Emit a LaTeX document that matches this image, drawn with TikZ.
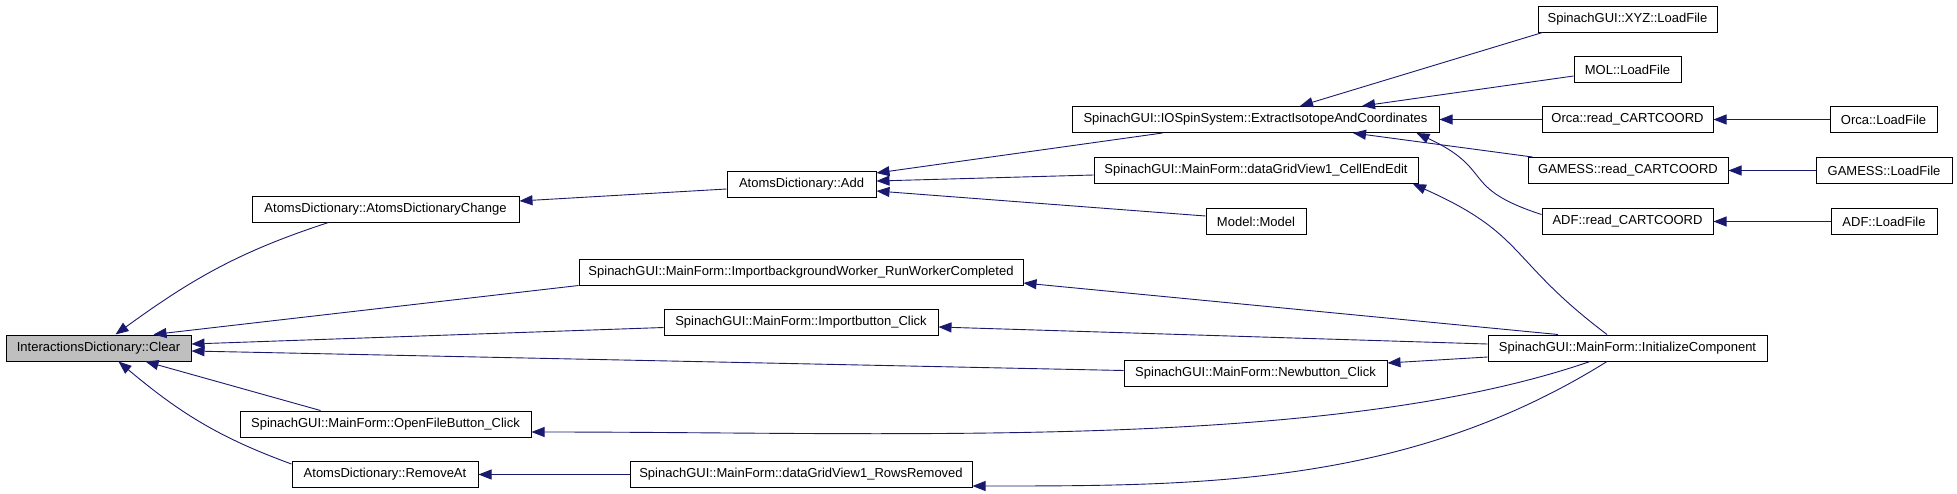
\documentclass[tikz,border=0pt]{standalone}
\usepackage{fontspec}
\setmainfont{Liberation Sans}
\usetikzlibrary{arrows.meta}
\definecolor{callblue}{HTML}{191970}
\definecolor{curgray}{HTML}{BFBFBF}

\begin{document}
\begin{tikzpicture}[
  x=1pt, y=-1pt,
  fn/.style={draw, line width=1pt, minimum height=26pt, inner sep=0pt, font=\fontsize{13pt}{15pt}\selectfont},
  current/.style={fn, fill=curgray},
  call/.style={-{Triangle[length=13pt,width=10pt]}, draw=callblue, line width=0.9pt}
]
\useasboundingbox (0,0) rectangle (1957,493);

\node[current, minimum width=185pt] (clear) at (98.5,348) {InteractionsDictionary::Clear};

\node[fn, minimum width=267pt] (dictchange) at (385.5,209) {AtomsDictionary::AtomsDictionaryChange};
\node[fn, minimum width=291pt] (openfile) at (385.5,424) {SpinachGUI::MainForm::OpenFileButton\_Click};
\node[fn, minimum width=186pt] (removeat) at (385,474.5) {AtomsDictionary::RemoveAt};

\node[fn, minimum width=149pt] (add) at (801.5,184) {AtomsDictionary::Add};
\node[fn, minimum width=444pt] (runworker) at (801,272) {SpinachGUI::MainForm::ImportbackgroundWorker\_RunWorkerCompleted};
\node[fn, minimum width=274pt] (importbtn) at (801,322.5) {SpinachGUI::MainForm::Importbutton\_Click};
\node[fn, minimum width=342pt] (rowsremoved) at (801,474.5) {SpinachGUI::MainForm::dataGridView1\_RowsRemoved};

\node[fn, minimum width=367pt] (extract) at (1255.5,119.5) {SpinachGUI::IOSpinSystem::ExtractIsotopeAndCoordinates};
\node[fn, minimum width=324pt] (celledit) at (1256,170.5) {SpinachGUI::MainForm::dataGridView1\_CellEndEdit};
\node[fn, minimum width=100pt] (model) at (1256,221.5) {Model::Model};
\node[fn, minimum width=263pt] (newbtn) at (1255.5,373.5) {SpinachGUI::MainForm::Newbutton\_Click};

\node[fn, minimum width=179pt] (xyz) at (1627.5,19) {SpinachGUI::XYZ::LoadFile};
\node[fn, minimum width=107pt] (mol) at (1627.5,69.5) {MOL::LoadFile};
\node[fn, minimum width=171pt] (orcaread) at (1627.5,119.5) {Orca::read\_CARTCOORD};
\node[fn, minimum width=200pt] (gamessread) at (1628,170.5) {GAMESS::read\_CARTCOORD};
\node[fn, minimum width=171pt] (adfread) at (1627.5,221.5) {ADF::read\_CARTCOORD};
\node[fn, minimum width=279pt] (init) at (1627.5,348) {SpinachGUI::MainForm::InitializeComponent};

\node[fn, minimum width=107pt] (orcaload) at (1883.5,119.5) {Orca::LoadFile};
\node[fn, minimum width=136pt] (gamessload) at (1884,170.5) {GAMESS::LoadFile};
\node[fn, minimum width=106pt] (adfload) at (1884,221.5) {ADF::LoadFile};

\draw[call] ([xshift=-57pt]dictchange.south) to[out=198,in=36] ([xshift=17pt]clear.north);
\draw[call] (runworker.south west) -- ([xshift=55pt]clear.north);
\draw[call] ([yshift=-5pt]importbtn.west) -- ([yshift=4pt]clear.east);
\draw[call] ([yshift=3pt]newbtn.west) -- ([yshift=-3pt]clear.east);
\draw[call] ([xshift=-65pt]openfile.north) -- ([xshift=47pt]clear.south);
\draw[call] ([yshift=-3pt]removeat.north west) to[out=160,in=-40] ([xshift=20pt]clear.south);

\draw[call] ([yshift=-5pt]add.west) -- ([yshift=8pt]dictchange.east);
\draw[call] ([xshift=-93pt]extract.south) -- ([yshift=11pt]add.east);
\draw[call] ([yshift=-4.5pt]celledit.west) -- ([yshift=3pt]add.east);
\draw[call] ([yshift=5.5pt]model.west) -- ([yshift=-7pt]add.east);

\draw[call] ([xshift=5pt]xyz.south west) -- ([xshift=44.5pt]extract.north);
\draw[call] ([yshift=-6.5pt]mol.west) -- ([xshift=106.5pt]extract.north);
\draw[call] (orcaread.west) -- (extract.east);
\draw[call] ([xshift=5pt]gamessread.north west) -- ([xshift=97.5pt]extract.south);
\draw[call] ([yshift=7pt]adfread.west) to[out=162,in=-25,looseness=1.5] ([xshift=161pt]extract.south);

\draw[call] (orcaload.west) -- (orcaread.east);
\draw[call] (gamessload.west) -- (gamessread.east);
\draw[call] (adfload.west) -- (adfread.east);

\draw[call] ([xshift=-20.5pt]init.north) to[out=143,in=-24,looseness=1.3] ([xshift=157pt]celledit.south);
\draw[call] ([xshift=-69.5pt]init.north) -- ([yshift=-11pt]runworker.east);
\draw[call] ([yshift=4pt]init.west) -- ([yshift=-4.5pt]importbtn.east);
\draw[call] ([yshift=-9pt]init.west) -- ([yshift=10.5pt]newbtn.east);
\draw[call] ([xshift=-37.5pt]init.south) .. controls +(199:275pt) and +(0:369pt) .. ([yshift=-8pt]openfile.east);
\draw[call] ([xshift=-20.5pt]init.south) .. controls +(212:235pt) and +(0:228pt) .. ([yshift=-11.5pt]rowsremoved.east);
\draw[call] (rowsremoved.west) -- (removeat.east);
\end{tikzpicture}
\end{document}
